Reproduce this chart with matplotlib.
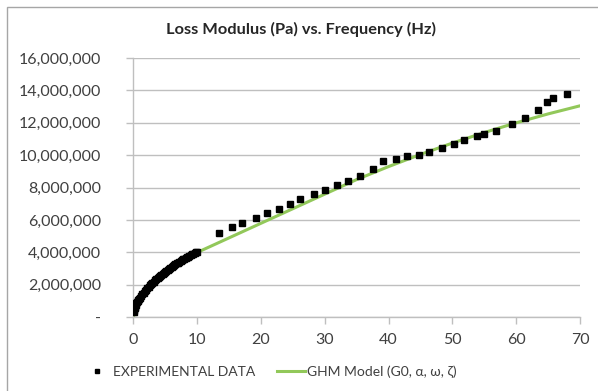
import matplotlib
matplotlib.use("Agg")
import matplotlib.pyplot as plt
from matplotlib.ticker import FuncFormatter, MultipleLocator
from matplotlib.patches import Rectangle

plt.rcParams['font.family'] = ['Lato', 'DejaVu Sans']

# Measured loss modulus (Pa), dense low-frequency sweep (Hz)
exp_freq_low = [0.05, 0.1, 0.2, 0.3, 0.4, 0.5, 0.6, 0.7, 0.8, 0.9, 1.0,
                1.2, 1.4, 1.6, 1.8, 2.0, 2.2, 2.4, 2.6, 2.8, 3.0, 3.2, 3.4,
                3.6, 3.8, 4.0, 4.2, 4.4, 4.6, 4.8, 5.0, 5.2, 5.4, 5.6, 5.8,
                6.0, 6.2, 6.4, 6.6, 6.8, 7.0, 7.2, 7.4, 7.6, 7.8, 8.0, 8.2,
                8.4, 8.6, 8.8, 9.0, 9.2, 9.4, 9.6, 9.8, 10.0]
exp_mod_low = [0.35e6, 0.42e6, 0.55e6, 0.65e6, 0.76e6, 0.86e6, 0.93e6, 1.01e6,
               1.07e6, 1.14e6, 1.20e6, 1.32e6, 1.42e6, 1.52e6, 1.62e6, 1.71e6,
               1.80e6, 1.89e6, 1.97e6, 2.05e6, 2.13e6, 2.20e6, 2.28e6, 2.35e6,
               2.42e6, 2.49e6, 2.55e6, 2.62e6, 2.68e6, 2.75e6, 2.81e6, 2.87e6,
               2.93e6, 2.99e6, 3.04e6, 3.10e6, 3.16e6, 3.21e6, 3.27e6, 3.32e6,
               3.37e6, 3.42e6, 3.47e6, 3.52e6, 3.57e6, 3.61e6, 3.66e6, 3.71e6,
               3.75e6, 3.80e6, 3.84e6, 3.88e6, 3.92e6, 3.96e6, 4.00e6, 4.02e6]

# Measured loss modulus (Pa), sparse high-frequency points (Hz)
exp_freq_high = [13.5, 15.4, 17.1, 19.2, 20.9, 22.8, 24.5, 26.1, 28.3, 30.0,
                 31.9, 33.7, 35.5, 37.5, 39.2, 41.1, 42.9, 44.7, 46.4, 48.4,
                 50.3, 51.9, 53.9, 54.9, 56.9, 59.4, 61.4, 63.4, 64.8, 65.8, 67.9]
exp_mod_high = [5.18e6, 5.55e6, 5.82e6, 6.13e6, 6.46e6, 6.70e6, 6.98e6, 7.30e6,
                7.59e6, 7.86e6, 8.15e6, 8.43e6, 8.70e6, 9.15e6, 9.63e6, 9.79e6,
                9.98e6, 10.02e6, 10.22e6, 10.45e6, 10.70e6, 10.92e6, 11.17e6,
                11.30e6, 11.50e6, 11.93e6, 12.30e6, 12.80e6, 13.27e6, 13.54e6,
                13.80e6]

# GHM model curve
model_freq = [0, 0.5, 1, 2, 3, 4, 5, 6, 7, 8, 9, 10, 15, 20, 25, 30, 35, 40,
              45, 50, 55, 60, 65, 70]
model_mod = [0.0, 0.55e6, 0.95e6, 1.50e6, 1.95e6, 2.35e6, 2.70e6, 3.05e6,
             3.35e6, 3.60e6, 3.80e6, 4.00e6, 4.90e6, 5.80e6, 6.70e6, 7.60e6,
             8.50e6, 9.30e6, 10.05e6, 10.75e6, 11.40e6, 12.00e6, 12.55e6, 13.05e6]

title = "Loss Modulus (Pa) vs. Frequency (Hz)"
exp_label = "EXPERIMENTAL DATA"
model_label = "GHM Model (G0, \u03b1, \u03c9, \u03b6)"

W, H = 598, 391
fig = plt.figure(figsize=(W / 100, H / 100), dpi=100)
fig.patch.set_facecolor('white')

# chart frame
fig.patches.append(Rectangle((7 / W, -0.05), 1.1, (H - 7) / H + 0.05,
                             transform=fig.transFigure, fill=False,
                             edgecolor='#a6a6a6', linewidth=1.0))

left, right, top, bottom = 133.3, 580, 58, 317.3
ax = fig.add_axes([left / W, 1 - bottom / H, (right - left) / W, (bottom - top) / H])

grid_c = '#bfbfbf'
text_c = '#404040'

ax.plot(model_freq, model_mod, color='#92c85a', linewidth=2.2, zorder=2,
        label=model_label)
ax.plot(exp_freq_low + exp_freq_high, exp_mod_low + exp_mod_high, linestyle='none',
        marker='s', markersize=3.8, color='black', zorder=3, label=exp_label)

ax.set_xlim(0, 70)
ax.set_ylim(0, 16e6)
ax.xaxis.set_major_locator(MultipleLocator(10))
ax.yaxis.set_major_locator(MultipleLocator(2e6))
ax.yaxis.set_major_formatter(FuncFormatter(
    lambda v, p: '-' if abs(v) < 1 else f'{v:,.0f}'))

ax.grid(axis='y', color=grid_c, linewidth=1.0)
ax.set_axisbelow(True)
for s in ['top', 'right']:
    ax.spines[s].set_visible(False)
for s in ['left', 'bottom']:
    ax.spines[s].set_color(grid_c)
    ax.spines[s].set_linewidth(1.0)
ax.tick_params(axis='both', colors=grid_c, length=5, width=1.0,
               labelcolor=text_c, labelsize=11.5)
ax.tick_params(axis='y', pad=18)
ax.tick_params(axis='x', pad=6)

fig.text(301 / W, 1 - 29 / H, title, ha='center', va='center',
         fontsize=11.8, fontweight='bold', color='#262626')

handles, labels = ax.get_legend_handles_labels()
leg = fig.legend(handles[::-1], labels[::-1], loc='center', ncol=2,
                 bbox_to_anchor=(270 / W, 1 - 372 / H), frameon=False,
                 fontsize=10, handlelength=2.0, columnspacing=1.6,
                 handletextpad=0.15, markerscale=0.8, labelcolor=text_c)

fig.savefig('out.png', dpi=100, facecolor='white')
